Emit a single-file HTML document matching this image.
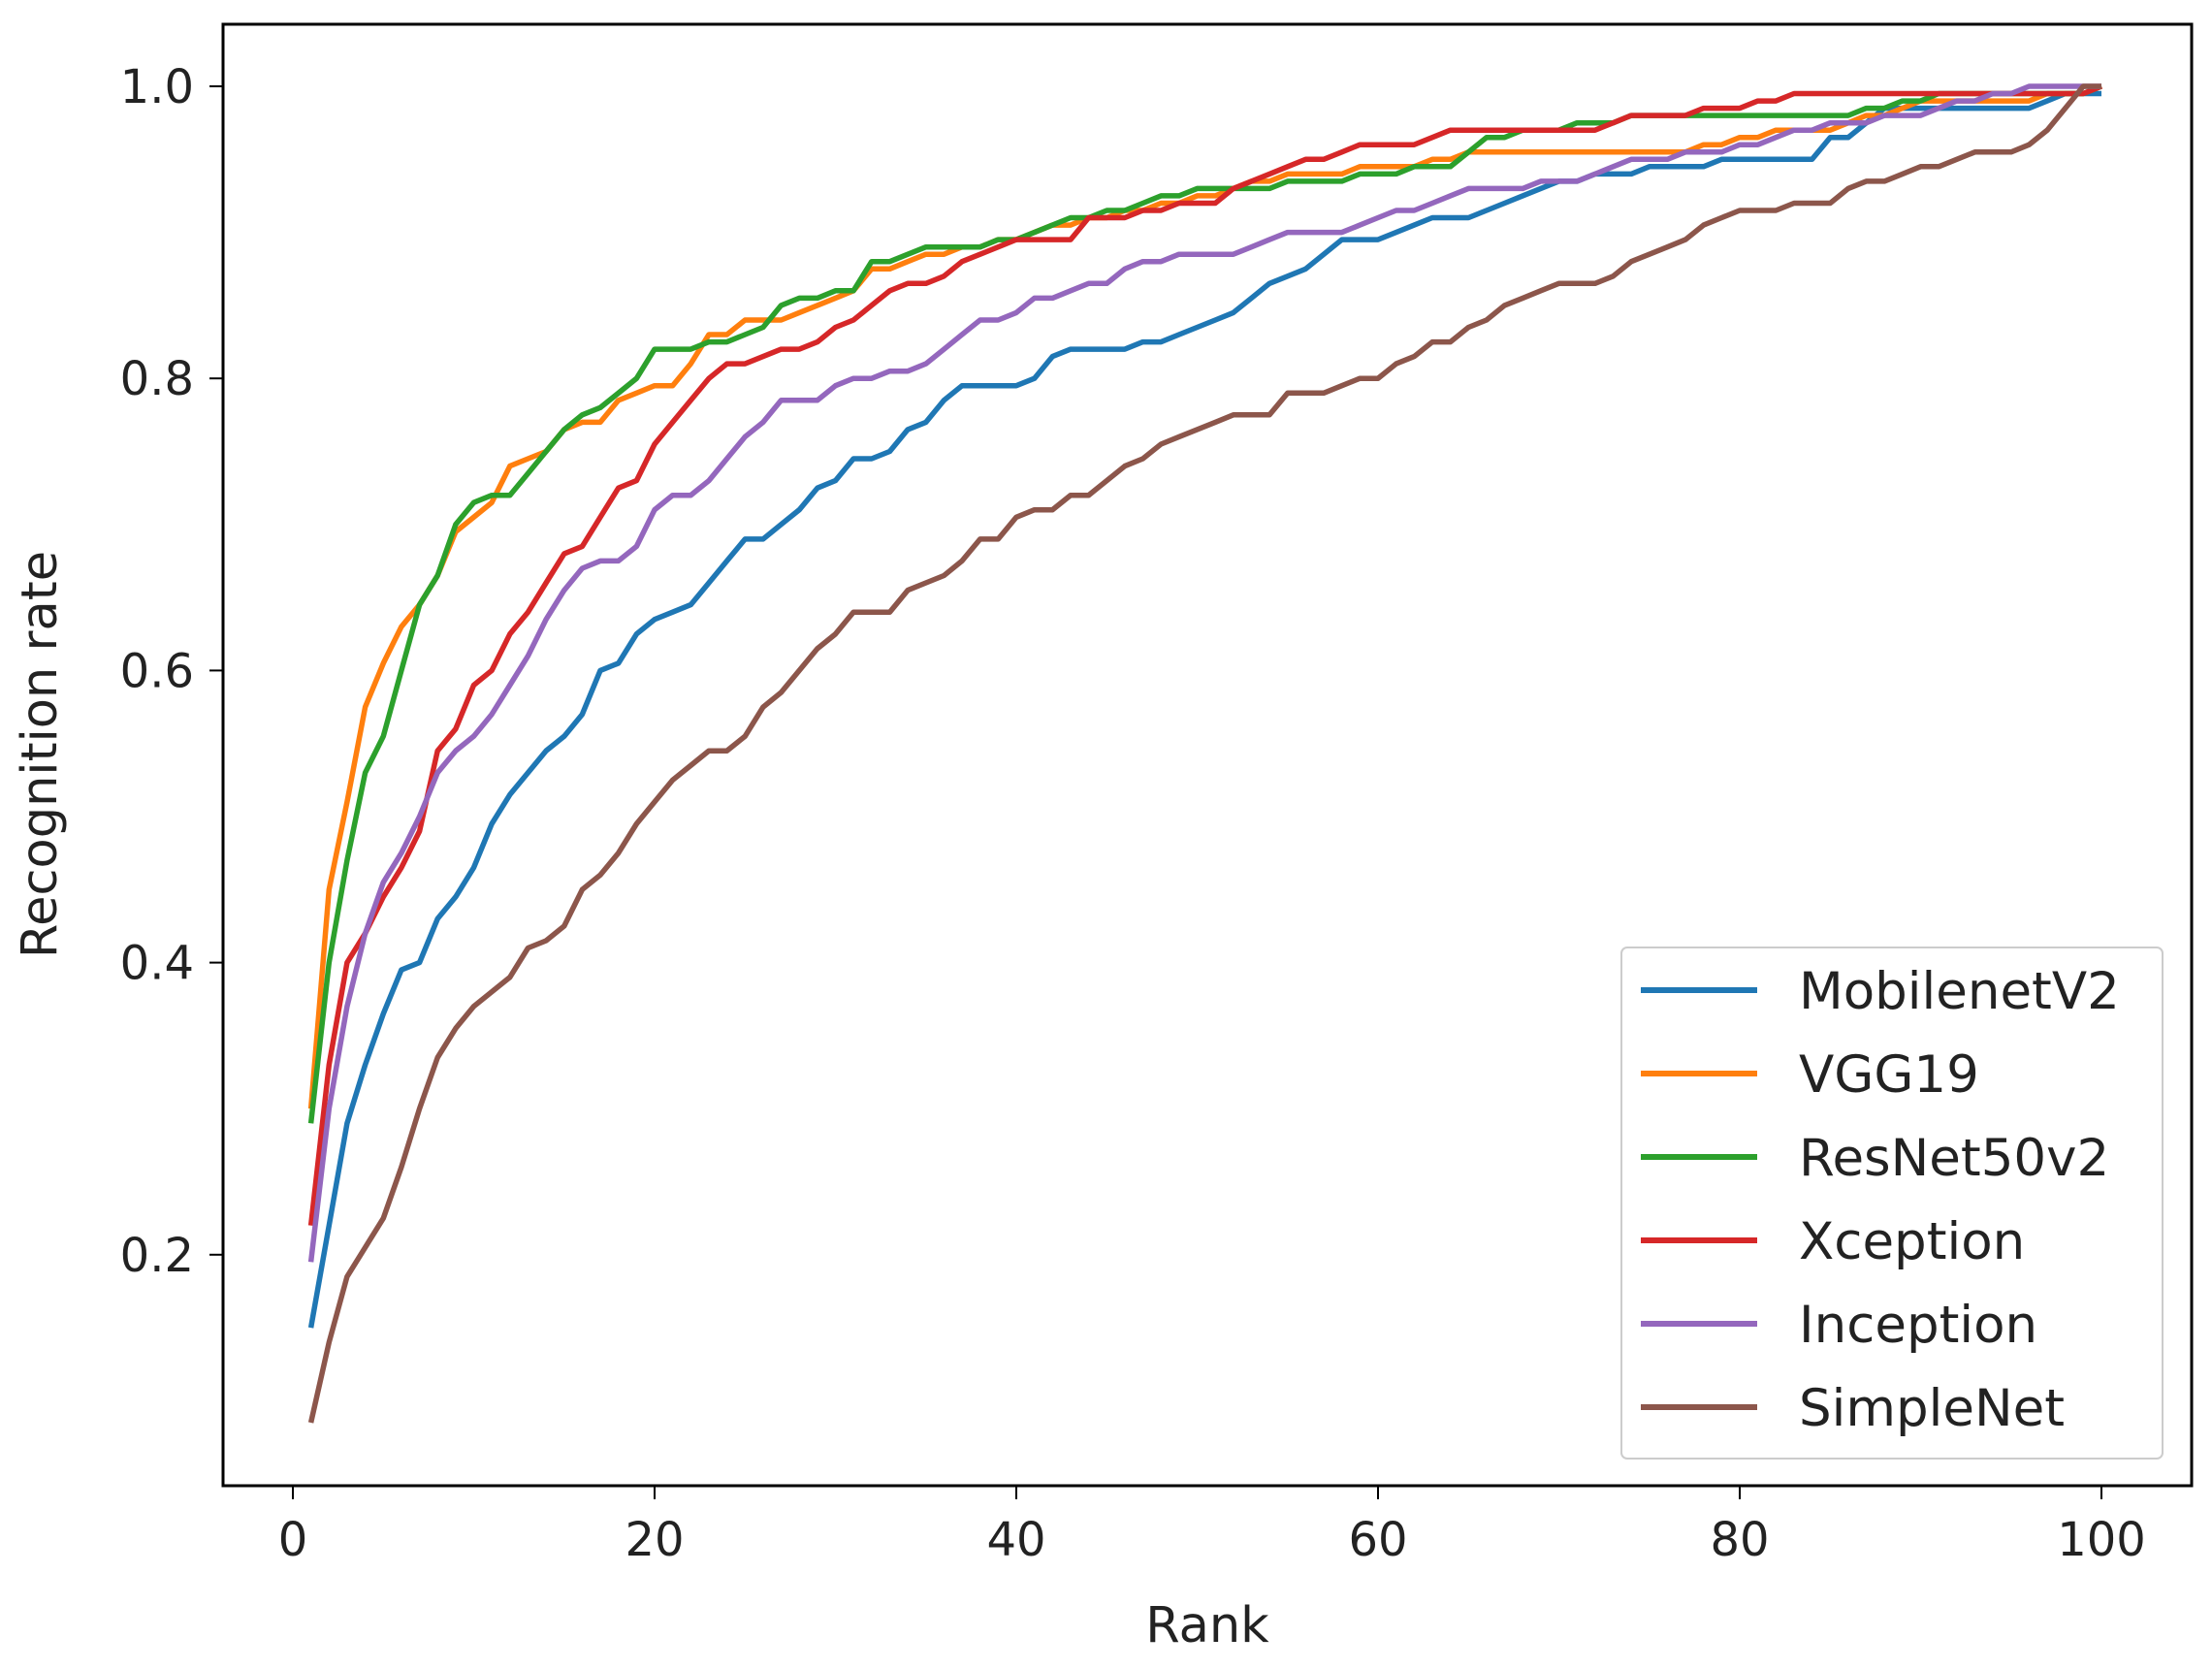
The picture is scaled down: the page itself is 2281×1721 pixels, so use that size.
<!DOCTYPE html>
<html><head><meta charset="utf-8"><style>
body{margin:0;background:#fff}
svg{display:block;font-family:"DejaVu Sans","Liberation Sans",sans-serif}
</style></head><body>
<svg id="chart" width="2281" height="1721" viewBox="0 0 2281 1721" xmlns="http://www.w3.org/2000/svg">
<g id="plot"></g>
<g id="axes"></g>
<g id="legend"></g>
</svg>
<script>
const xTicks=[0,20,40,60,80,100];
const yTicks=[0.2,0.4,0.6,0.8,1.0];
const yTickLabels=["0.2","0.4","0.6","0.8","1.0"];
const seriesNames=["MobilenetV2","VGG19","ResNet50v2","Xception","Inception","SimpleNet"];
const seriesColors=["#1f77b4","#ff7f0e","#2ca02c","#d62728","#9467bd","#8c564b"];
const mobilenet=[0.15,0.22,0.29,0.33,0.365,0.395,0.40,0.43,0.445,0.465,0.495,0.515,0.53,0.545,0.555,0.57,0.60,0.605,0.625,0.635,0.64,0.645,0.66,0.675,0.69,0.69,0.70,0.71,0.725,0.73,0.745,0.745,0.75,0.765,0.77,0.785,0.795,0.795,0.795,0.795,0.80,0.815,0.82,0.82,0.82,0.82,0.825,0.825,0.83,0.835,0.84,0.845,0.855,0.865,0.87,0.875,0.885,0.895,0.895,0.895,0.90,0.905,0.91,0.91,0.91,0.915,0.92,0.925,0.93,0.935,0.935,0.94,0.94,0.94,0.945,0.945,0.945,0.945,0.95,0.95,0.95,0.95,0.95,0.95,0.965,0.965,0.975,0.985,0.985,0.985,0.985,0.985,0.985,0.985,0.985,0.985,0.99,0.995,0.995,0.995];
const vgg19=[0.30,0.45,0.51,0.575,0.605,0.63,0.645,0.665,0.695,0.705,0.715,0.74,0.745,0.75,0.765,0.77,0.77,0.785,0.79,0.795,0.795,0.81,0.83,0.83,0.84,0.84,0.84,0.845,0.85,0.855,0.86,0.875,0.875,0.88,0.885,0.885,0.89,0.89,0.895,0.895,0.90,0.905,0.905,0.91,0.91,0.915,0.915,0.92,0.92,0.925,0.925,0.93,0.935,0.935,0.94,0.94,0.94,0.94,0.945,0.945,0.945,0.945,0.95,0.95,0.955,0.955,0.955,0.955,0.955,0.955,0.955,0.955,0.955,0.955,0.955,0.955,0.955,0.96,0.96,0.965,0.965,0.97,0.97,0.97,0.97,0.975,0.98,0.98,0.985,0.99,0.99,0.99,0.99,0.99,0.99,0.99,0.995,0.995,0.995,1.0];
const resnet=[0.29,0.40,0.47,0.53,0.555,0.60,0.645,0.665,0.70,0.715,0.72,0.72,0.735,0.75,0.765,0.775,0.78,0.79,0.80,0.82,0.82,0.82,0.825,0.825,0.83,0.835,0.85,0.855,0.855,0.86,0.86,0.88,0.88,0.885,0.89,0.89,0.89,0.89,0.895,0.895,0.90,0.905,0.91,0.91,0.915,0.915,0.92,0.925,0.925,0.93,0.93,0.93,0.93,0.93,0.935,0.935,0.935,0.935,0.94,0.94,0.94,0.945,0.945,0.945,0.955,0.965,0.965,0.97,0.97,0.97,0.975,0.975,0.975,0.98,0.98,0.98,0.98,0.98,0.98,0.98,0.98,0.98,0.98,0.98,0.98,0.98,0.985,0.985,0.99,0.99,0.995,0.995,0.995,0.995,0.995,0.995,0.995,0.995,0.995,1.0];
const xception=[0.22,0.33,0.40,0.42,0.445,0.465,0.49,0.545,0.56,0.59,0.60,0.625,0.64,0.66,0.68,0.685,0.705,0.725,0.73,0.755,0.77,0.785,0.80,0.81,0.81,0.815,0.82,0.82,0.825,0.835,0.84,0.85,0.86,0.865,0.865,0.87,0.88,0.885,0.89,0.895,0.895,0.895,0.895,0.91,0.91,0.91,0.915,0.915,0.92,0.92,0.92,0.93,0.935,0.94,0.945,0.95,0.95,0.955,0.96,0.96,0.96,0.96,0.965,0.97,0.97,0.97,0.97,0.97,0.97,0.97,0.97,0.97,0.975,0.98,0.98,0.98,0.98,0.985,0.985,0.985,0.99,0.99,0.995,0.995,0.995,0.995,0.995,0.995,0.995,0.995,0.995,0.995,0.995,0.995,0.995,0.995,0.995,0.995,0.995,1.0];
const inception=[0.195,0.30,0.37,0.42,0.455,0.475,0.50,0.53,0.545,0.555,0.57,0.59,0.61,0.635,0.655,0.67,0.675,0.675,0.685,0.71,0.72,0.72,0.73,0.745,0.76,0.77,0.785,0.785,0.785,0.795,0.80,0.80,0.805,0.805,0.81,0.82,0.83,0.84,0.84,0.845,0.855,0.855,0.86,0.865,0.865,0.875,0.88,0.88,0.885,0.885,0.885,0.885,0.89,0.895,0.90,0.90,0.90,0.90,0.905,0.91,0.915,0.915,0.92,0.925,0.93,0.93,0.93,0.93,0.935,0.935,0.935,0.94,0.945,0.95,0.95,0.95,0.955,0.955,0.955,0.96,0.96,0.965,0.97,0.97,0.975,0.975,0.975,0.98,0.98,0.98,0.985,0.99,0.99,0.995,0.995,1.0,1.0,1.0,1.0,1.0];
const simplenet=[0.085,0.14,0.185,0.205,0.225,0.26,0.30,0.335,0.355,0.37,0.38,0.39,0.41,0.415,0.425,0.45,0.46,0.475,0.495,0.51,0.525,0.535,0.545,0.545,0.555,0.575,0.585,0.60,0.615,0.625,0.64,0.64,0.64,0.655,0.66,0.665,0.675,0.69,0.69,0.705,0.71,0.71,0.72,0.72,0.73,0.74,0.745,0.755,0.76,0.765,0.77,0.775,0.775,0.775,0.79,0.79,0.79,0.795,0.80,0.80,0.81,0.815,0.825,0.825,0.835,0.84,0.85,0.855,0.86,0.865,0.865,0.865,0.87,0.88,0.885,0.89,0.895,0.905,0.91,0.915,0.915,0.915,0.92,0.92,0.92,0.93,0.935,0.935,0.94,0.945,0.945,0.95,0.955,0.955,0.955,0.96,0.97,0.985,1.0,1.0];
const seriesData=[mobilenet,vgg19,resnet,xception,inception,simplenet];

const NS="http://www.w3.org/2000/svg";
const L=230,R=2260,T=25,B=1532;
const xScale=v=>302+(v-0)*(2167-302)/100;
const yScale=v=>89+(1-v)*1506;
function mk(tag,attrs,parent){const e=document.createElementNS(NS,tag);for(const k in attrs)e.setAttribute(k,attrs[k]);parent.appendChild(e);return e;}
const plot=document.getElementById('plot'),axes=document.getElementById('axes'),legend=document.getElementById('legend');

seriesData.forEach((arr,i)=>{
  const pts=arr.map((v,j)=>xScale(j+1).toFixed(1)+','+yScale(v).toFixed(1)).join(' ');
  const pl=mk('polyline',{points:pts,fill:'none',stroke:seriesColors[i],'stroke-width':5.5,'stroke-linejoin':'round'},plot);
  
  
});

const frame=mk('rect',{x:L,y:T,width:R-L,height:B-T,fill:'none',stroke:'#000','stroke-width':3},axes);


xTicks.forEach(t=>{
  const x=xScale(t);
  const tk=mk('line',{x1:x,y1:B,x2:x,y2:B+14,stroke:'#000','stroke-width':2},axes);
  
  
  const tx=mk('text',{x:x,y:B+72,'font-size':48,'text-anchor':'middle',fill:'#222'},axes);
  tx.textContent=String(t);
  
  
});
yTicks.forEach((t,i)=>{
  const y=yScale(t);
  const tk=mk('line',{x1:L-14,y1:y,x2:L,y2:y,stroke:'#000','stroke-width':2},axes);
  
  
  const tx=mk('text',{x:L-30,y:y+17,'font-size':48,'text-anchor':'end',fill:'#222'},axes);
  tx.textContent=yTickLabels[i];
  
  
});
const xl=mk('text',{x:(L+R)/2,y:1693,'font-size':51,'text-anchor':'middle',fill:'#222'},axes);
xl.textContent='Rank';


const yl=mk('text',{x:0,y:0,'font-size':51,'text-anchor':'middle',fill:'#222',transform:'translate(58,778) rotate(-90)'},axes);
yl.textContent='Recognition rate';



const box=mk('rect',{x:1672,y:977,width:558,height:527,rx:6,fill:'#fff','fill-opacity':0.8,stroke:'#ccc','stroke-width':2},legend);


seriesNames.forEach((n,i)=>{
  const y=1021+i*86;
  const g=mk('g',{},legend);
  
  
  mk('line',{x1:1692,y1:y,x2:1812,y2:y,stroke:seriesColors[i],'stroke-width':6},g);
  const t=mk('text',{x:1855,y:y+19,'font-size':53,fill:'#222'},g);
  t.textContent=n;
});
</script>
</body></html>
